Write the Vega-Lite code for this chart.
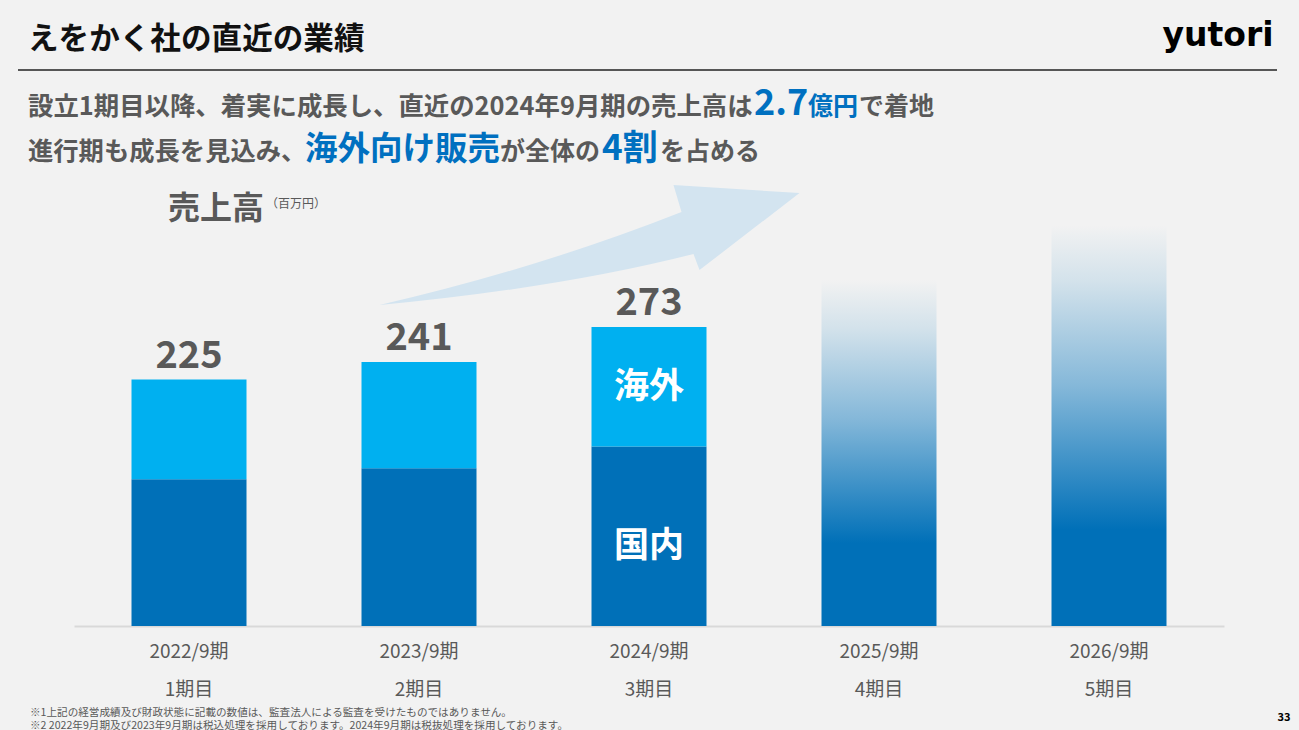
{
  "$schema": "https://vega.github.io/schema/vega-lite/v6.json",
  "width": 1150,
  "height": 426,
  "autosize": {"type": "none"},
  "padding": {"left": 74, "top": 200, "right": 75, "bottom": 104},
  "background": "#f2f2f2",
  "config": {"view": {"stroke": null}, "font": "Noto Sans CJK JP", "text": {"font": "Noto Sans CJK JP"}},
  "datasets": {
    "sales": [
      {"period": "2022/9期", "segment": "国内", "value": 134},
      {"period": "2022/9期", "segment": "海外", "value": 91},
      {"period": "2023/9期", "segment": "国内", "value": 144},
      {"period": "2023/9期", "segment": "海外", "value": 97},
      {"period": "2024/9期", "segment": "国内", "value": 164},
      {"period": "2024/9期", "segment": "海外", "value": 109},
      {"period": "2025/9期", "segment": "見込み", "value": 316},
      {"period": "2026/9期", "segment": "見込み", "value": 366}
    ],
    "totals": [
      {"period": "2022/9期", "total": 225},
      {"period": "2023/9期", "total": 241},
      {"period": "2024/9期", "total": 273}
    ],
    "terms": [
      {"period": "2022/9期", "term": "1期目"},
      {"period": "2023/9期", "term": "2期目"},
      {"period": "2024/9期", "term": "3期目"},
      {"period": "2025/9期", "term": "4期目"},
      {"period": "2026/9期", "term": "5期目"}
    ]
  },
  "layer": [
    {
      "data": {"values": [{}]},
      "mark": {"type": "rule", "color": "#222222", "strokeWidth": 1.5},
      "encoding": {"x": {"value": -56}, "x2": {"value": 1203}, "y": {"value": -130}}
    },
    {
      "data": {"name": "totals"},
      "transform": [{"filter": "datum.period == '2024/9期'"}],
      "mark": {"type": "point", "shape": "M-269.5,-22 Q-109.5,-59 32.5,-115 L24.5,-142 L150.5,-134 L50.5,-57 L44.5,-73 Q-89.5,-39 -269.5,-22 Z", "size": 4, "filled": true, "fill": "#d3e4f0", "opacity": 1, "strokeWidth": 0},
      "encoding": {
        "x": {"field": "period", "type": "ordinal", "sort": ["2022/9期", "2023/9期", "2024/9期", "2025/9期", "2026/9期"]},
        "y": {"field": "total", "type": "quantitative", "axis": null, "scale": {"domain": [0, 389], "nice": false, "zero": true}}
      }
    },
    {
      "data": {"name": "sales"},
      "transform": [
        {"filter": "datum.segment != '見込み'"},
        {"stack": "value", "groupby": ["period"], "sort": [{"field": "segment", "order": "ascending"}], "as": ["v0", "v1"]}
      ],
      "mark": {"type": "bar"},
      "encoding": {
        "x": {
          "field": "period", "type": "ordinal", "title": null,
          "sort": ["2022/9期", "2023/9期", "2024/9期", "2025/9期", "2026/9期"],
          "scale": {"paddingInner": 0.5, "paddingOuter": 0.25},
          "axis": {
            "labelAngle": 0, "ticks": false, "domainColor": "#d9d9d9", "domainWidth": 2,
            "labelFont": "Noto Sans CJK JP", "labelFontSize": 19, "labelColor": "#595959",
            "labelPadding": 16, "labelBaseline": "top", "labelAlign": "center"
          }
        },
        "y": {"field": "v1", "type": "quantitative", "axis": null, "scale": {"domain": [0, 389], "nice": false, "zero": true}},
        "y2": {"field": "v0"},
        "color": {"field": "segment", "type": "nominal", "legend": null, "scale": {"domain": ["国内", "海外"], "range": ["#0070b8", "#00b0f0"]}}
      }
    },
    {
      "data": {"name": "sales"},
      "transform": [{"filter": "datum.segment == '見込み'"}],
      "mark": {
        "type": "bar",
        "fill": {"gradient": "linear", "x1": 0, "y1": 1, "x2": 0, "y2": 0, "stops": [
          {"offset": 0, "color": "#0070b8"},
          {"offset": 0.24, "color": "#0070b8"},
          {"offset": 0.6, "color": "#85b8d9"},
          {"offset": 0.86, "color": "#d3e2eb"},
          {"offset": 1, "color": "#f2f2f2"}
        ]}
      },
      "encoding": {
        "x": {"field": "period", "type": "ordinal", "sort": ["2022/9期", "2023/9期", "2024/9期", "2025/9期", "2026/9期"]},
        "y": {"field": "value", "type": "quantitative", "axis": null, "scale": {"domain": [0, 389], "nice": false, "zero": true}}
      }
    },
    {
      "data": {"name": "totals"},
      "mark": {"type": "text", "fontSize": 38, "fontWeight": "bold", "color": "#595959", "baseline": "alphabetic", "dy": -12},
      "encoding": {
        "x": {"field": "period", "type": "ordinal", "sort": ["2022/9期", "2023/9期", "2024/9期", "2025/9期", "2026/9期"]},
        "y": {"field": "total", "type": "quantitative", "axis": null, "scale": {"domain": [0, 389], "nice": false, "zero": true}},
        "text": {"field": "total", "type": "quantitative"}
      }
    },
    {
      "data": {"name": "sales"},
      "transform": [
        {"filter": "datum.segment != '見込み'"},
        {"stack": "value", "groupby": ["period"], "sort": [{"field": "segment", "order": "ascending"}], "as": ["v0", "v1"]},
        {"filter": "datum.period == '2024/9期' && datum.segment == '海外'"},
        {"calculate": "(datum.v0 + datum.v1) / 2", "as": "mid"}
      ],
      "mark": {"type": "text", "fontSize": 35, "fontWeight": "bold", "color": "#ffffff", "baseline": "middle"},
      "encoding": {
        "x": {"field": "period", "type": "ordinal", "sort": ["2022/9期", "2023/9期", "2024/9期", "2025/9期", "2026/9期"]},
        "y": {"field": "mid", "type": "quantitative", "axis": null, "scale": {"domain": [0, 389], "nice": false, "zero": true}},
        "text": {"field": "segment", "type": "nominal"}
      }
    },
    {
      "data": {"name": "sales"},
      "transform": [
        {"filter": "datum.segment != '見込み'"},
        {"stack": "value", "groupby": ["period"], "sort": [{"field": "segment", "order": "ascending"}], "as": ["v0", "v1"]},
        {"filter": "datum.period == '2024/9期' && datum.segment == '国内'"},
        {"calculate": "(datum.v0 + datum.v1) / 2", "as": "mid"}
      ],
      "mark": {"type": "text", "fontSize": 35, "fontWeight": "bold", "color": "#ffffff", "baseline": "middle", "dy": 10},
      "encoding": {
        "x": {"field": "period", "type": "ordinal", "sort": ["2022/9期", "2023/9期", "2024/9期", "2025/9期", "2026/9期"]},
        "y": {"field": "mid", "type": "quantitative", "axis": null, "scale": {"domain": [0, 389], "nice": false, "zero": true}},
        "text": {"field": "segment", "type": "nominal"}
      }
    },
    {
      "data": {"name": "terms"},
      "mark": {"type": "text", "fontSize": 19, "color": "#595959", "baseline": "middle"},
      "encoding": {
        "x": {"field": "period", "type": "ordinal", "sort": ["2022/9期", "2023/9期", "2024/9期", "2025/9期", "2026/9期"]},
        "y": {"value": 490},
        "text": {"field": "term", "type": "nominal"}
      }
    },
    {
      "data": {"values": [{}]},
      "mark": {"type": "text", "text": "えをかく社の直近の業績", "fontSize": 30.6, "fontWeight": "bold", "color": "#111111", "align": "left", "baseline": "alphabetic"},
      "encoding": {"x": {"value": -46}, "y": {"value": -151}}
    },
    {
      "data": {"values": [{}]},
      "mark": {"type": "text", "text": "yutori", "font": "DejaVu Sans", "fontSize": 33, "fontWeight": "bold", "color": "#000000", "align": "center", "baseline": "alphabetic"},
      "encoding": {"x": {"value": 1144}, "y": {"value": -154}}
    },
    {
      "data": {"values": [{}]},
      "mark": {"type": "text", "text": "設立1期目以降、着実に成長し、直近の2024年9月期の売上高は", "fontSize": 25.4, "fontWeight": "bold", "color": "#595959", "align": "left", "baseline": "alphabetic"},
      "encoding": {"x": {"value": -46}, "y": {"value": -85}}
    },
    {
      "data": {"values": [{}]},
      "mark": {"type": "text", "text": "2.7", "fontSize": 36, "fontWeight": "bold", "color": "#0070c0", "align": "left", "baseline": "alphabetic"},
      "encoding": {"x": {"value": 680}, "y": {"value": -85}}
    },
    {
      "data": {"values": [{}]},
      "mark": {"type": "text", "text": "億円", "fontSize": 25, "fontWeight": "bold", "color": "#0070c0", "align": "left", "baseline": "alphabetic"},
      "encoding": {"x": {"value": 734}, "y": {"value": -85}}
    },
    {
      "data": {"values": [{}]},
      "mark": {"type": "text", "text": "で着地", "fontSize": 25, "fontWeight": "bold", "color": "#595959", "align": "left", "baseline": "alphabetic"},
      "encoding": {"x": {"value": 785}, "y": {"value": -85}}
    },
    {
      "data": {"values": [{}]},
      "mark": {"type": "text", "text": "進行期も成長を見込み、", "fontSize": 25.3, "fontWeight": "bold", "color": "#595959", "align": "left", "baseline": "alphabetic"},
      "encoding": {"x": {"value": -46}, "y": {"value": -40}}
    },
    {
      "data": {"values": [{}]},
      "mark": {"type": "text", "text": "海外向け販売", "fontSize": 32.5, "fontWeight": "bold", "color": "#0070c0", "align": "left", "baseline": "alphabetic"},
      "encoding": {"x": {"value": 231}, "y": {"value": -40}}
    },
    {
      "data": {"values": [{}]},
      "mark": {"type": "text", "text": "が全体の", "fontSize": 25, "fontWeight": "bold", "color": "#595959", "align": "left", "baseline": "alphabetic"},
      "encoding": {"x": {"value": 426}, "y": {"value": -40}}
    },
    {
      "data": {"values": [{}]},
      "mark": {"type": "text", "text": "4割", "fontSize": 35, "fontWeight": "bold", "color": "#0070c0", "align": "left", "baseline": "alphabetic"},
      "encoding": {"x": {"value": 528}, "y": {"value": -40}}
    },
    {
      "data": {"values": [{}]},
      "mark": {"type": "text", "text": "を占める", "fontSize": 25, "fontWeight": "bold", "color": "#595959", "align": "left", "baseline": "alphabetic"},
      "encoding": {"x": {"value": 586}, "y": {"value": -40}}
    },
    {
      "data": {"values": [{}]},
      "mark": {"type": "text", "text": "売上高", "fontSize": 32, "fontWeight": "bold", "color": "#595959", "align": "left", "baseline": "alphabetic"},
      "encoding": {"x": {"value": 94}, "y": {"value": 19}}
    },
    {
      "data": {"values": [{}]},
      "mark": {"type": "text", "text": "（百万円）", "fontSize": 12, "color": "#595959", "align": "left", "baseline": "alphabetic"},
      "encoding": {"x": {"value": 192}, "y": {"value": 8}}
    },
    {
      "data": {"values": [{}]},
      "mark": {"type": "text", "text": "※1上記の経営成績及び財政状態に記載の数値は、監査法人による監査を受けたものではありません。", "fontSize": 10.6, "color": "#595959", "align": "left", "baseline": "alphabetic"},
      "encoding": {"x": {"value": -44}, "y": {"value": 516}}
    },
    {
      "data": {"values": [{}]},
      "mark": {"type": "text", "text": "※2 2022年9月期及び2023年9月期は税込処理を採用しております。2024年9月期は税抜処理を採用しております。", "fontSize": 10.6, "color": "#595959", "align": "left", "baseline": "alphabetic"},
      "encoding": {"x": {"value": -44}, "y": {"value": 528.5}}
    },
    {
      "data": {"values": [{}]},
      "mark": {"type": "text", "text": "33", "fontSize": 11, "fontWeight": "bold", "color": "#000000", "align": "center", "baseline": "alphabetic"},
      "encoding": {"x": {"value": 1210}, "y": {"value": 521}}
    }
  ]
}
